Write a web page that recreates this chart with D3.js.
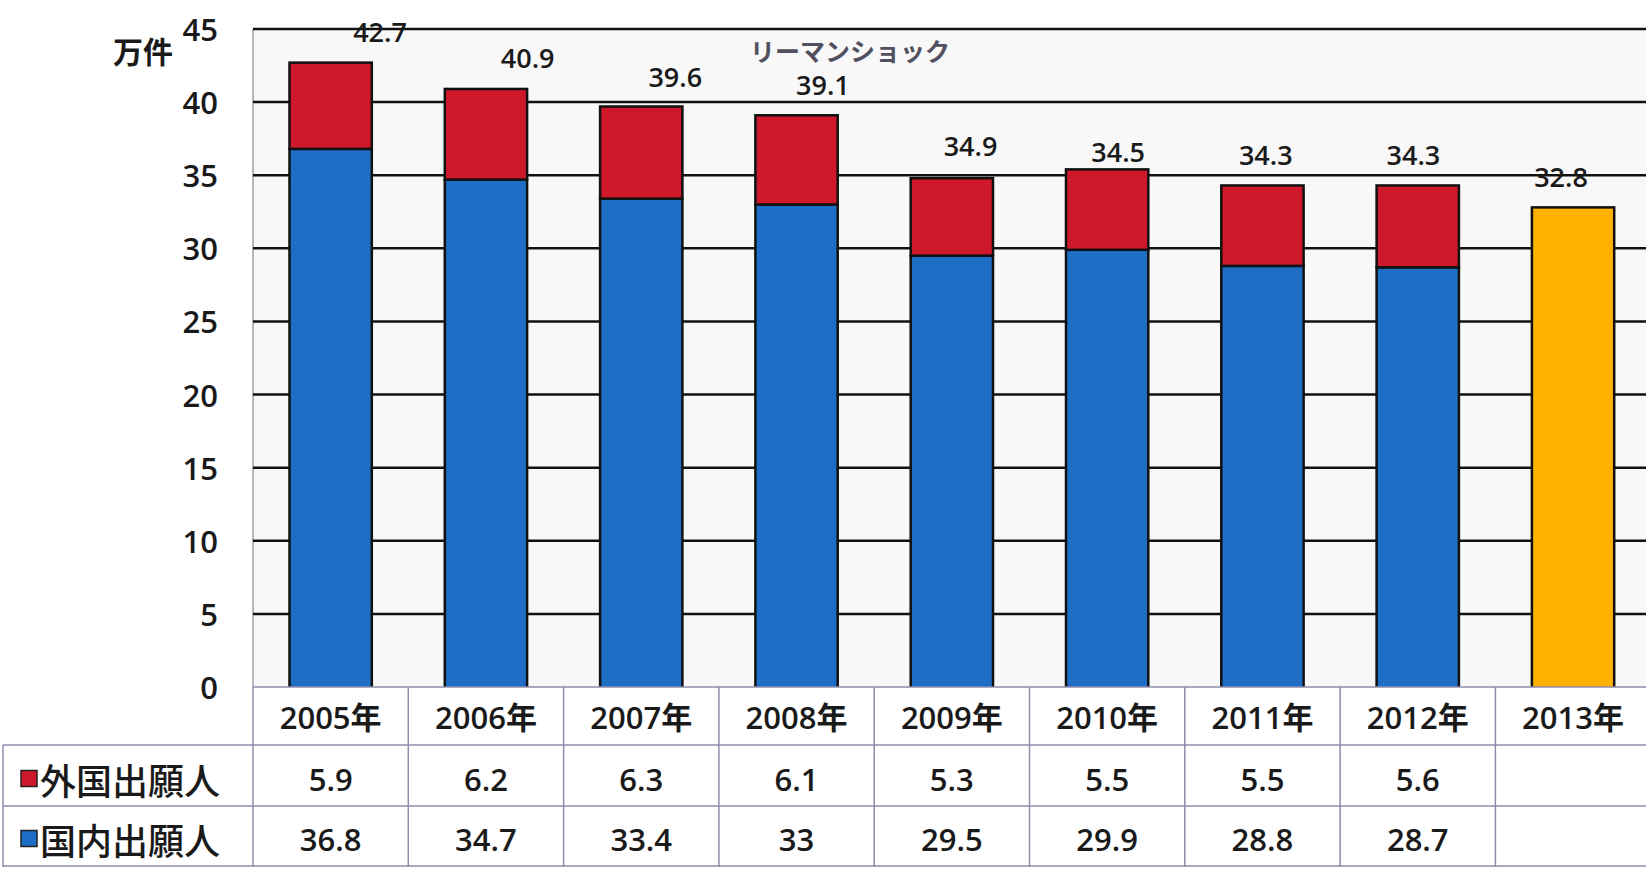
<html>
<script src="https://d3js.org/d3.v7.min.js"></script>
<style>
body { margin: 0; background: #ffffff; }
svg { display: block; }
.num { font-family: "Open Sans", "Noto Sans CJK JP", sans-serif; fill: #1a1a1a; font-weight: 600; }
.jp { font-family: "Noto Sans CJK JP", sans-serif; fill: #1a1a1a; }
</style>
<body>
<svg width="1646" height="870"></svg>
<script>
// chart values
var years = ["2005年", "2006年", "2007年", "2008年", "2009年", "2010年", "2011年", "2012年", "2013年"];
var foreign = [5.9, 6.2, 6.3, 6.1, 5.3, 5.5, 5.5, 5.6, null];
var domestic = [36.8, 34.7, 33.4, 33, 29.5, 29.9, 28.8, 28.7, null];
var estimate = [null, null, null, null, null, null, null, null, 32.8];
var totals = [42.7, 40.9, 39.6, 39.1, 34.9, 34.5, 34.3, 34.3, 32.8];
var yTicks = [0, 5, 10, 15, 20, 25, 30, 35, 40, 45];
var seriesNames = ["外国出願人", "国内出願人"];
var unitLabel = "万件";
var note = "リーマンショック";

var RED = "#d0182b", BLUE = "#1f6ec6", ORANGE = "#ffb100";
var TABLE_LINE = "#8c8cab";

var svg = d3.select("svg");

var plotLeft = 253, plotTop = 29, plotBottom = 687, colW = 155.3;
var rowH = [58, 61, 61];

var x = d3.scaleBand().domain(years).range([plotLeft, plotLeft + colW * years.length]);
var y = d3.scaleLinear().domain([0, 45]).range([plotBottom, plotTop]);
// value labels sit on their own slightly narrower spacing, as in the original sheet
var xLabel = d3.scalePoint().domain(years).range([380, 1561]);

var barW = x.bandwidth() * 0.53;

// plot background
svg.append("rect")
  .attr("x", plotLeft).attr("y", plotTop)
  .attr("width", 1646 - plotLeft).attr("height", plotBottom - plotTop)
  .attr("fill", "#f8f8f8");

svg.append("line")
  .attr("x1", plotLeft).attr("x2", plotLeft)
  .attr("y1", plotTop).attr("y2", plotBottom)
  .attr("stroke", "#a0a0a8").attr("stroke-width", 1.5);

// grid lines
svg.append("g").selectAll("line")
  .data(yTicks.filter(function(d) { return d > 0; }))
  .enter().append("line")
  .attr("x1", plotLeft).attr("x2", 1646)
  .attr("y1", function(d) { return y(d); })
  .attr("y2", function(d) { return y(d); })
  .attr("stroke", "#111").attr("stroke-width", 2.5);

// y axis labels
svg.append("g").selectAll("text")
  .data(yTicks)
  .enter().append("text")
  .attr("class", "num")
  .attr("x", 218)
  .attr("y", function(d) { return y(d); })
  .attr("text-anchor", "end")
  .attr("dominant-baseline", "central")
  .style("font-size", "31px")
  .text(function(d) { return d; });

svg.append("text")
  .attr("class", "jp")
  .attr("x", 143).attr("y", 50)
  .attr("text-anchor", "middle")
  .attr("dominant-baseline", "central")
  .style("font-size", "30px")
  .style("font-weight", "bold")
  .text(unitLabel);

// bars
var bars = svg.append("g");
years.forEach(function(yr, i) {
  var bx = x(yr) + (x.bandwidth() - barW) / 2;
  if (domestic[i] != null) {
    bars.append("rect")
      .attr("x", bx).attr("y", y(domestic[i]))
      .attr("width", barW).attr("height", y(0) - y(domestic[i]) + 4)
      .attr("fill", BLUE).attr("stroke", "#111").attr("stroke-width", 2.5);
    bars.append("rect")
      .attr("x", bx).attr("y", y(domestic[i] + foreign[i]))
      .attr("width", barW).attr("height", y(domestic[i]) - y(domestic[i] + foreign[i]))
      .attr("fill", RED).attr("stroke", "#111").attr("stroke-width", 2.5);
  }
  if (estimate[i] != null) {
    bars.append("rect")
      .attr("x", bx).attr("y", y(estimate[i]))
      .attr("width", barW).attr("height", y(0) - y(estimate[i]) + 4)
      .attr("fill", ORANGE).attr("stroke", "#111").attr("stroke-width", 2.5);
  }
});

// total labels
svg.append("g").selectAll("text")
  .data(totals)
  .enter().append("text")
  .attr("class", "num")
  .attr("x", function(d, i) { return xLabel(years[i]); })
  .attr("y", function(d) { return y(d) - 31; })
  .attr("text-anchor", "middle")
  .attr("dominant-baseline", "central")
  .style("font-size", "27px")
  .text(function(d) { return d; });

svg.append("text")
  .attr("class", "jp")
  .attr("x", 850).attr("y", 50)
  .attr("text-anchor", "middle")
  .attr("dominant-baseline", "central")
  .style("font-size", "25px")
  .style("font-weight", "bold")
  .style("fill", "#50505e")
  .text(note);

// data table
var table = svg.append("g");
var r0 = plotBottom, r1 = r0 + rowH[0], r2 = r1 + rowH[1], r3 = r2 + rowH[2];

table.append("rect")
  .attr("x", plotLeft).attr("y", r0)
  .attr("width", 1646 - plotLeft).attr("height", r3 - r0)
  .attr("fill", "#fff");
table.append("rect")
  .attr("x", 3).attr("y", r1)
  .attr("width", plotLeft - 3).attr("height", r3 - r1)
  .attr("fill", "#fff");

table.append("line").attr("x1", plotLeft).attr("x2", 1646).attr("y1", r0).attr("y2", r0)
  .attr("stroke", TABLE_LINE).attr("stroke-width", 1.5);
[r1, r2, r3 - 1].forEach(function(v) {
  table.append("line").attr("x1", 3).attr("x2", 1646).attr("y1", v).attr("y2", v)
    .attr("stroke", TABLE_LINE).attr("stroke-width", 1.5);
});
table.append("line").attr("x1", 3).attr("x2", 3).attr("y1", r1).attr("y2", r3)
  .attr("stroke", TABLE_LINE).attr("stroke-width", 1.5);
years.forEach(function(yr) {
  table.append("line").attr("x1", x(yr)).attr("x2", x(yr)).attr("y1", r0).attr("y2", r3)
    .attr("stroke", TABLE_LINE).attr("stroke-width", 1.5);
});

table.selectAll(".yr")
  .data(years)
  .enter().append("text")
  .attr("class", "num")
  .attr("x", function(d) { return x(d) + x.bandwidth() / 2; })
  .attr("y", (r0 + r1) / 2 + 1)
  .attr("text-anchor", "middle")
  .attr("dominant-baseline", "central")
  .style("font-size", "31px")
  .text(function(d) { return d; });

var rows = [foreign, domestic];
var rowColors = [RED, BLUE];
rows.forEach(function(vals, k) {
  var cy = k == 0 ? (r1 + r2) / 2 + 3 : (r2 + r3) / 2 + 2;
  table.append("rect")
    .attr("x", 21).attr("y", cy - 8)
    .attr("width", 16).attr("height", 16)
    .attr("fill", rowColors[k]).attr("stroke", "#222").attr("stroke-width", 1.5);
  table.append("text")
    .attr("class", "jp")
    .attr("x", 40).attr("y", cy)
    .attr("dominant-baseline", "central")
    .style("font-size", "36px")
    .style("font-weight", "500")
    .text(seriesNames[k]);
  table.append("g").selectAll("text")
    .data(vals)
    .enter().append("text")
    .attr("class", "num")
    .attr("x", function(d, i) { return x(years[i]) + x.bandwidth() / 2; })
    .attr("y", cy)
    .attr("text-anchor", "middle")
    .attr("dominant-baseline", "central")
    .style("font-size", "31px")
    .text(function(d) { return d == null ? "" : d; });
});
</script>
</body>
</html>
